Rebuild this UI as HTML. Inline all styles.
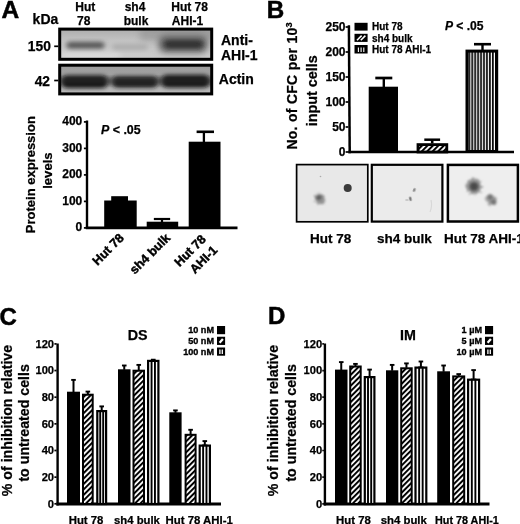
<!DOCTYPE html>
<html><head><meta charset="utf-8"><title>Figure</title>
<style>
html,body{margin:0;padding:0;background:#fff;}
svg{display:block;font-family:"Liberation Sans",Arial,Helvetica,sans-serif;}
</style></head><body>
<svg width="520" height="524" viewBox="0 0 520 524">
<defs>
<pattern id="hatch" width="3.85" height="3.85" patternUnits="userSpaceOnUse" patternTransform="rotate(-45)">
<rect width="3.85" height="3.85" fill="#fff"/><rect y="0" width="3.85" height="2.0" fill="#000"/>
</pattern>
<pattern id="vs" x="0" width="2.9" height="10" patternUnits="userSpaceOnUse">
<rect width="2.9" height="10" fill="#fff"/><rect x="0" width="1.5" height="10" fill="#000"/>
</pattern>
<pattern id="vsB" x="465.5" width="2.95" height="10" patternUnits="userSpaceOnUse">
<rect width="2.95" height="10" fill="#000"/><rect x="1.7" width="1.25" height="10" fill="#fff"/>
</pattern>
<filter id="b1" x="-20%" y="-50%" width="140%" height="200%"><feGaussianBlur stdDeviation="2.2 1.8"/></filter>
<filter id="b2" x="-20%" y="-50%" width="140%" height="200%"><feGaussianBlur stdDeviation="2.5 2.2"/></filter>
<filter id="b5" x="-30%" y="-60%" width="160%" height="220%"><feGaussianBlur stdDeviation="3"/></filter>
<filter id="rg" x="-60%" y="-60%" width="220%" height="220%"><feTurbulence type="fractalNoise" baseFrequency="0.35" numOctaves="2" seed="7" result="n"/><feDisplacementMap in="SourceGraphic" in2="n" scale="6" xChannelSelector="R" yChannelSelector="G"/><feGaussianBlur stdDeviation="0.9"/></filter>
<filter id="b3" x="-50%" y="-50%" width="200%" height="200%"><feGaussianBlur stdDeviation="1.6"/></filter>
<filter id="b4" x="-50%" y="-50%" width="200%" height="200%"><feGaussianBlur stdDeviation="0.6"/></filter>
<linearGradient id="g1" x1="0" y1="0" x2="0" y2="1"><stop offset="0" stop-color="#acacac"/><stop offset="0.4" stop-color="#c4c4c4"/><stop offset="1" stop-color="#cdcdcd"/></linearGradient>
<linearGradient id="g2" x1="0" y1="0" x2="0" y2="1"><stop offset="0" stop-color="#9a9a9a"/><stop offset="0.5" stop-color="#a8a8a8"/><stop offset="1" stop-color="#c0c0c0"/></linearGradient>
<clipPath id="c1"><rect x="59.5" y="28.5" width="152.5" height="31.5"/></clipPath>
<clipPath id="c2"><rect x="59.5" y="64.5" width="152.5" height="30.5"/></clipPath>
</defs>
<rect width="520" height="524" fill="#fff"/>

<text x="1.6" y="18.4" font-size="24.5" font-weight="bold" fill="#000" stroke="#000" stroke-width="0.5">A</text>
<text x="32.6" y="24.2" font-size="14" font-weight="bold" fill="#000" stroke="#000" stroke-width="0.25">kDa</text>
<text x="85.3" y="11.2" font-size="12" font-weight="bold" fill="#000" text-anchor="middle" stroke="#000" stroke-width="0.25">Hut</text>
<text x="83.8" y="25" font-size="12" font-weight="bold" fill="#000" text-anchor="middle" stroke="#000" stroke-width="0.25">78</text>
<text x="135" y="11.2" font-size="12" font-weight="bold" fill="#000" text-anchor="middle" stroke="#000" stroke-width="0.25">sh4</text>
<text x="136" y="25" font-size="12" font-weight="bold" fill="#000" text-anchor="middle" stroke="#000" stroke-width="0.25">bulk</text>
<text x="189.6" y="11.2" font-size="12" font-weight="bold" fill="#000" text-anchor="middle" stroke="#000" stroke-width="0.25">Hut 78</text>
<text x="187.5" y="25" font-size="12" font-weight="bold" fill="#000" text-anchor="middle" stroke="#000" stroke-width="0.25">AHI-1</text>
<text x="27.8" y="51.2" font-size="13.8" font-weight="bold" fill="#000" stroke="#000" stroke-width="0.25">150</text>
<text x="34.7" y="85.7" font-size="13.8" font-weight="bold" fill="#000" stroke="#000" stroke-width="0.25">42</text>
<line x1="54.2" y1="46.3" x2="58.3" y2="46.3" stroke="#000" stroke-width="1.7"/>
<line x1="54.2" y1="80.5" x2="58.3" y2="80.5" stroke="#000" stroke-width="1.7"/>
<text x="221" y="45" font-size="14" font-weight="bold" fill="#000" stroke="#000" stroke-width="0.25">Anti-</text>
<text x="221" y="60" font-size="14" font-weight="bold" fill="#000" stroke="#000" stroke-width="0.25">AHI-1</text>
<text x="218.8" y="84.2" font-size="14" font-weight="bold" fill="#000" stroke="#000" stroke-width="0.25">Actin</text>
<rect x="59.5" y="28.8" width="152.5" height="31.2" fill="url(#g1)" />
<g clip-path="url(#c1)">
<rect x="140" y="27" width="75" height="14" fill="#8c8c8c" opacity="0.55" filter="url(#b5)"/>
<rect x="60" y="52" width="60" height="8" fill="#e2e2e2" opacity="0.7" filter="url(#b5)"/>
<rect x="66.5" y="41.8" width="38" height="7" rx="3.5" fill="#585858" filter="url(#b2)"/>
<rect x="112" y="44" width="36" height="6" rx="3" fill="#adadad" filter="url(#b2)"/>
<rect x="158" y="35" width="50" height="18" rx="8" fill="#6c6c6c" filter="url(#b5)"/>
<rect x="164" y="40" width="39" height="8.5" rx="4.2" fill="#303030" filter="url(#b2)"/>
</g>
<rect x="59.7" y="29.1" width="152.0" height="30.2" fill="none" stroke="#000" stroke-width="3" />
<rect x="59.5" y="64.5" width="152.5" height="30.5" fill="url(#g2)" />
<g clip-path="url(#c2)">
<rect x="61" y="75.5" width="47" height="12.5" rx="5.7" fill="#101010" filter="url(#b2)"/>
<rect x="112" y="76.5" width="46" height="11" rx="5" fill="#141414" filter="url(#b2)"/>
<rect x="161" y="75" width="49" height="12.5" rx="5.7" fill="#101010" filter="url(#b2)"/>
<rect x="60" y="78" width="152" height="6" fill="#333" opacity="0.6" filter="url(#b2)"/>
</g>
<rect x="59.7" y="65.2" width="152.0" height="28.7" fill="none" stroke="#000" stroke-width="3" />
<line x1="87" y1="120.5" x2="87" y2="229" stroke="#000" stroke-width="2.4"/>
<line x1="85.8" y1="227.9" x2="237.5" y2="227.9" stroke="#000" stroke-width="2.6"/>
<line x1="83.9" y1="227.9" x2="86" y2="227.9" stroke="#000" stroke-width="1.7"/>
<text x="82.3" y="231.4" font-size="12" font-weight="bold" fill="#000" text-anchor="end" stroke="#000" stroke-width="0.25">0</text>
<line x1="83.9" y1="201.4" x2="86" y2="201.4" stroke="#000" stroke-width="1.7"/>
<text x="82.3" y="204.9" font-size="12" font-weight="bold" fill="#000" text-anchor="end" stroke="#000" stroke-width="0.25">100</text>
<line x1="83.9" y1="174.9" x2="86" y2="174.9" stroke="#000" stroke-width="1.7"/>
<text x="82.3" y="178.4" font-size="12" font-weight="bold" fill="#000" text-anchor="end" stroke="#000" stroke-width="0.25">200</text>
<line x1="83.9" y1="148.4" x2="86" y2="148.4" stroke="#000" stroke-width="1.7"/>
<text x="82.3" y="151.9" font-size="12" font-weight="bold" fill="#000" text-anchor="end" stroke="#000" stroke-width="0.25">300</text>
<line x1="83.9" y1="121.9" x2="86" y2="121.9" stroke="#000" stroke-width="1.7"/>
<text x="82.3" y="125.4" font-size="12" font-weight="bold" fill="#000" text-anchor="end" stroke="#000" stroke-width="0.25">400</text>
<text x="101" y="134" font-size="12.42" font-weight="bold" fill="#000" stroke="#000" stroke-width="0.25"><tspan font-style="italic">P</tspan> &lt; .05</text>
<text x="35.0" y="233.2" font-size="13.0" font-weight="bold" fill="#000" transform="rotate(-90 35.0 233.2)" stroke="#000" stroke-width="0.25">Protein expression</text>
<text x="52.2" y="188.8" font-size="13.1" font-weight="bold" fill="#000" transform="rotate(-90 52.2 188.8)" stroke="#000" stroke-width="0.25">levels</text>
<rect x="104.2" y="200.5" width="32.5" height="27.4" fill="#000" />
<rect x="111.2" y="196.2" width="16.8" height="4.8" fill="#000" />
<rect x="146.7" y="221.7" width="31.5" height="6.2" fill="#000" />
<line x1="162" y1="219" x2="162" y2="222" stroke="#000" stroke-width="2.2"/>
<line x1="153.85" y1="219" x2="170.15" y2="219" stroke="#000" stroke-width="2.2"/>
<rect x="188.7" y="141.7" width="31.8" height="86.2" fill="#000" />
<line x1="203.9" y1="131.8" x2="203.9" y2="142" stroke="#000" stroke-width="2.3"/>
<line x1="196.6" y1="131.8" x2="214" y2="131.8" stroke="#000" stroke-width="2.6"/>
<text x="124.7" y="238.7" font-size="12.6" font-weight="bold" fill="#000" text-anchor="end" transform="rotate(-45 124.7 238.7)" stroke="#000" stroke-width="0.45">Hut 78</text>
<text x="171" y="238.7" font-size="12.6" font-weight="bold" fill="#000" text-anchor="end" transform="rotate(-45 171 238.7)" stroke="#000" stroke-width="0.45">sh4 bulk</text>
<text x="206.7" y="240" font-size="12.6" font-weight="bold" fill="#000" text-anchor="end" transform="rotate(-45 206.7 240)" stroke="#000" stroke-width="0.45">Hut 78</text>
<text x="218.2" y="251" font-size="12.6" font-weight="bold" fill="#000" text-anchor="end" transform="rotate(-45 218.2 251)" stroke="#000" stroke-width="0.45">AHI-1</text>
<text x="266.8" y="17.7" font-size="24.2" font-weight="bold" fill="#000" stroke="#000" stroke-width="0.5">B</text>
<line x1="348.90000000000003" y1="25.3" x2="349.70000000000005" y2="153.3" stroke="#000" stroke-width="2.5"/>
<line x1="348.2" y1="152.0" x2="514" y2="152.0" stroke="#000" stroke-width="2.6"/>
<line x1="345.6" y1="152.0" x2="348.4" y2="152.0" stroke="#000" stroke-width="1.7"/>
<text x="345.5" y="155.6" font-size="12" font-weight="bold" fill="#000" text-anchor="end" stroke="#000" stroke-width="0.25">0</text>
<line x1="345.6" y1="127.0" x2="348.4" y2="127.0" stroke="#000" stroke-width="1.7"/>
<text x="345.5" y="130.6" font-size="12" font-weight="bold" fill="#000" text-anchor="end" stroke="#000" stroke-width="0.25">50</text>
<line x1="345.6" y1="102.0" x2="348.4" y2="102.0" stroke="#000" stroke-width="1.7"/>
<text x="345.5" y="105.6" font-size="12" font-weight="bold" fill="#000" text-anchor="end" stroke="#000" stroke-width="0.25">100</text>
<line x1="345.6" y1="77.0" x2="348.4" y2="77.0" stroke="#000" stroke-width="1.7"/>
<text x="345.5" y="80.6" font-size="12" font-weight="bold" fill="#000" text-anchor="end" stroke="#000" stroke-width="0.25">150</text>
<line x1="345.6" y1="52.0" x2="348.4" y2="52.0" stroke="#000" stroke-width="1.7"/>
<text x="345.5" y="55.6" font-size="12" font-weight="bold" fill="#000" text-anchor="end" stroke="#000" stroke-width="0.25">200</text>
<line x1="345.6" y1="27.0" x2="348.4" y2="27.0" stroke="#000" stroke-width="1.7"/>
<text x="345.5" y="30.6" font-size="12" font-weight="bold" fill="#000" text-anchor="end" stroke="#000" stroke-width="0.25">250</text>
<text x="297.4" y="149.6" font-size="14.0" font-weight="bold" fill="#000" transform="rotate(-90 297.4 149.6)" stroke="#000" stroke-width="0.25"><tspan letter-spacing="0.28">No. of CFC per 10</tspan><tspan dy="-5" font-size="9.3">3</tspan></text>
<text x="317.2" y="126.3" font-size="14.4" font-weight="bold" fill="#000" transform="rotate(-90 317.2 126.3)" stroke="#000" stroke-width="0.25">input cells</text>
<rect x="354.5" y="22.8" width="13.1" height="7.8" fill="#000" />
<rect x="354.5" y="33.8" width="13.1" height="8.1" fill="#000" />
<g stroke="#fff" stroke-width="1.5"><line x1="357" y1="40.2" x2="361.6" y2="35.6"/><line x1="360.8" y1="40.2" x2="365.4" y2="35.6"/></g>
<rect x="354.5" y="45" width="13.1" height="8.5" fill="#000" />
<g stroke="#fff" stroke-width="1.1"><line x1="358.4" y1="47.5" x2="358.4" y2="52"/><line x1="361.1" y1="47.5" x2="361.1" y2="52"/><line x1="363.8" y1="47.5" x2="363.8" y2="52"/></g>
<text x="372" y="29.9" font-size="10" font-weight="bold" fill="#000" stroke="#000" stroke-width="0.25">Hut 78</text>
<text x="372" y="41.8" font-size="10" font-weight="bold" fill="#000" stroke="#000" stroke-width="0.25">sh4 bulk</text>
<text x="372" y="52.8" font-size="10" font-weight="bold" fill="#000" stroke="#000" stroke-width="0.25">Hut 78 AHI-1</text>
<text x="444.9" y="29.8" font-size="12.1" font-weight="bold" fill="#000" stroke="#000" stroke-width="0.25"><tspan font-style="italic">P</tspan> &lt; .05</text>
<rect x="368.7" y="86.7" width="29.3" height="64.8" fill="#000" />
<line x1="383.8" y1="78" x2="383.8" y2="87" stroke="#000" stroke-width="2.4"/>
<line x1="375.3" y1="78" x2="392.3" y2="78" stroke="#000" stroke-width="2.7"/>
<rect x="418.0" y="144.6" width="28.8" height="7.4" fill="url(#hatch)" stroke="#000" stroke-width="2.8" />
<line x1="432.2" y1="139.7" x2="432.2" y2="143.4" stroke="#000" stroke-width="2.6"/>
<line x1="424.3" y1="139.7" x2="440.09999999999997" y2="139.7" stroke="#000" stroke-width="2.5"/>
<rect x="467.0" y="51.1" width="29.7" height="100.4" fill="url(#vsB)" stroke="#000" stroke-width="3" />
<line x1="482.5" y1="44.2" x2="482.5" y2="50" stroke="#000" stroke-width="2.4"/>
<line x1="474.0" y1="44.2" x2="491.0" y2="44.2" stroke="#000" stroke-width="2.6"/>
<rect x="296.6" y="164.6" width="71.2" height="57.2" fill="#e8e8e8" stroke="#000" stroke-width="1.7" />
<circle cx="347.7" cy="188" r="4" fill="#3a3a3a" filter="url(#b4)"/>
<circle cx="319.6" cy="198.6" r="5.2" fill="#9a9a9a" filter="url(#rg)"/>
<circle cx="319" cy="197.5" r="2.6" fill="#555" filter="url(#b3)"/>
<ellipse cx="322" cy="202" rx="2.5" ry="2" fill="#888" filter="url(#b3)"/>
<circle cx="320.5" cy="176.5" r="0.8" fill="#aaa" filter="url(#b4)"/>
<rect x="371.8" y="164.8" width="70.6" height="56.8" fill="#ebebeb" stroke="#000" stroke-width="2.2" />
<ellipse cx="414.3" cy="190" rx="1.3" ry="2" fill="#8a8a8a" filter="url(#b4)" transform="rotate(25 414.3 190)"/>
<ellipse cx="410.4" cy="198.8" rx="1.2" ry="2.4" fill="#777" filter="url(#b4)" transform="rotate(-15 410.4 198.8)"/>
<ellipse cx="407" cy="200" rx="2" ry="0.7" fill="#bbb" filter="url(#b4)"/>
<path d="M431 200 q1.5 6 -1 12" stroke="#d8d8d8" stroke-width="1.2" fill="none" filter="url(#b4)"/>
<rect x="447.9" y="164.9" width="70.0" height="56.6" fill="#eeeeee" stroke="#000" stroke-width="2.5" />
<circle cx="474" cy="186.5" r="8.2" fill="#9c9c9c" filter="url(#rg)"/>
<circle cx="474" cy="186.5" r="4.6" fill="#4a4a4a" filter="url(#b3)"/>
<ellipse cx="491.5" cy="199.8" rx="5" ry="5.8" fill="#a0a0a0" filter="url(#rg)" transform="rotate(-35 491.5 199.8)"/>
<ellipse cx="490" cy="197.3" rx="2.4" ry="2.2" fill="#666" filter="url(#b3)"/>
<ellipse cx="493.5" cy="202" rx="2.6" ry="2.4" fill="#6c6c6c" filter="url(#b3)"/>
<text x="310.1" y="243.4" font-size="13.5" font-weight="bold" fill="#000" stroke="#000" stroke-width="0.25">Hut 78</text>
<text x="377.0" y="243.4" font-size="13.5" font-weight="bold" fill="#000" stroke="#000" stroke-width="0.25">sh4 bulk</text>
<text x="444.0" y="243.4" font-size="13.5" font-weight="bold" fill="#000" stroke="#000" stroke-width="0.25">Hut 78 AHI-1</text>
<line x1="57.6" y1="343.5" x2="57.6" y2="505.5" stroke="#000" stroke-width="2.4"/>
<line x1="56.4" y1="504" x2="221" y2="504" stroke="#000" stroke-width="2.8"/>
<line x1="54.4" y1="503.8" x2="56.6" y2="503.8" stroke="#000" stroke-width="1.7"/>
<text x="54.1" y="507.6" font-size="11.2" font-weight="bold" fill="#000" text-anchor="end" stroke="#000" stroke-width="0.25">0</text>
<line x1="54.4" y1="477.15000000000003" x2="56.6" y2="477.15000000000003" stroke="#000" stroke-width="1.7"/>
<text x="54.1" y="480.95000000000005" font-size="11.2" font-weight="bold" fill="#000" text-anchor="end" stroke="#000" stroke-width="0.25">20</text>
<line x1="54.4" y1="450.5" x2="56.6" y2="450.5" stroke="#000" stroke-width="1.7"/>
<text x="54.1" y="454.3" font-size="11.2" font-weight="bold" fill="#000" text-anchor="end" stroke="#000" stroke-width="0.25">40</text>
<line x1="54.4" y1="423.85" x2="56.6" y2="423.85" stroke="#000" stroke-width="1.7"/>
<text x="54.1" y="427.65000000000003" font-size="11.2" font-weight="bold" fill="#000" text-anchor="end" stroke="#000" stroke-width="0.25">60</text>
<line x1="54.4" y1="397.2" x2="56.6" y2="397.2" stroke="#000" stroke-width="1.7"/>
<text x="54.1" y="401.0" font-size="11.2" font-weight="bold" fill="#000" text-anchor="end" stroke="#000" stroke-width="0.25">80</text>
<line x1="54.4" y1="370.55" x2="56.6" y2="370.55" stroke="#000" stroke-width="1.7"/>
<text x="54.1" y="374.35" font-size="11.2" font-weight="bold" fill="#000" text-anchor="end" stroke="#000" stroke-width="0.25">100</text>
<line x1="54.4" y1="343.90000000000003" x2="56.6" y2="343.90000000000003" stroke="#000" stroke-width="1.7"/>
<text x="54.1" y="347.70000000000005" font-size="11.2" font-weight="bold" fill="#000" text-anchor="end" stroke="#000" stroke-width="0.25">120</text>
<text x="-0.5" y="324.9" font-size="24" font-weight="bold" fill="#000" stroke="#000" stroke-width="0.5">C</text>
<text x="127.7" y="340.4" font-size="14.3" font-weight="bold" fill="#000" stroke="#000" stroke-width="0.25">DS</text>
<text x="11.7" y="496.2" font-size="14.2" font-weight="bold" fill="#000" transform="rotate(-90 11.7 496.2)" stroke="#000" stroke-width="0.25">% of inhibition relative</text>
<text x="28.9" y="481.6" font-size="14.2" font-weight="bold" fill="#000" transform="rotate(-90 28.9 481.6)" stroke="#000" stroke-width="0.25">to untreated cells</text>
<rect x="217" y="326.0" width="8.1" height="8.2" fill="#000" />
<text x="214.0" y="333.4" font-size="9.1" font-weight="bold" fill="#000" text-anchor="end" stroke="#000" stroke-width="0.35">10 nM</text>
<rect x="217" y="336.75" width="8.1" height="8.2" fill="#000" />
<line x1="219.6" y1="342.75" x2="222.9" y2="339.05" stroke="#fff" stroke-width="2.3"/>
<text x="214.0" y="344.15" font-size="9.1" font-weight="bold" fill="#000" text-anchor="end" stroke="#000" stroke-width="0.35">50 nM</text>
<rect x="217" y="347.5" width="8.1" height="8.2" fill="#000" />
<line x1="219.9" y1="349.5" x2="219.9" y2="353.9" stroke="#fff" stroke-width="1.3"/>
<line x1="222.3" y1="349.5" x2="222.3" y2="353.9" stroke="#fff" stroke-width="1.3"/>
<text x="214.0" y="354.9" font-size="9.1" font-weight="bold" fill="#000" text-anchor="end" stroke="#000" stroke-width="0.35">100 nM</text>
<rect x="67" y="391.7" width="13" height="112.3" fill="#000" />
<line x1="73.5" y1="379.9" x2="73.5" y2="392.2" stroke="#000" stroke-width="2.0"/>
<line x1="71.2" y1="379.9" x2="75.8" y2="379.9" stroke="#000" stroke-width="1.9"/>
<rect x="83.0" y="394.7" width="9.7" height="109.3" fill="url(#hatch)" stroke="#000" stroke-width="2" />
<line x1="87.85" y1="391.59999999999997" x2="87.85" y2="394.2" stroke="#000" stroke-width="2.0"/>
<line x1="85.55" y1="391.59999999999997" x2="90.14999999999999" y2="391.59999999999997" stroke="#000" stroke-width="1.9"/>
<rect x="97.3" y="411.1" width="8.8" height="92.9" fill="#fff" stroke="#000" stroke-width="2.2" />
<line x1="100.215" y1="410" x2="100.215" y2="504" stroke="#000" stroke-width="1.9"/>
<line x1="103.185" y1="410" x2="103.185" y2="504" stroke="#000" stroke-width="1.9"/>
<line x1="101.7" y1="406.4" x2="101.7" y2="410.5" stroke="#000" stroke-width="2.0"/>
<line x1="99.4" y1="406.4" x2="104.0" y2="406.4" stroke="#000" stroke-width="1.9"/>
<rect x="118" y="369.3" width="12.5" height="134.7" fill="#000" />
<line x1="124.25" y1="365.5" x2="124.25" y2="369.8" stroke="#000" stroke-width="2.0"/>
<line x1="121.95" y1="365.5" x2="126.55" y2="365.5" stroke="#000" stroke-width="1.9"/>
<rect x="133.5" y="370.7" width="10.5" height="133.3" fill="url(#hatch)" stroke="#000" stroke-width="2" />
<line x1="138.75" y1="364.9" x2="138.75" y2="370.2" stroke="#000" stroke-width="2.0"/>
<line x1="136.45" y1="364.9" x2="141.05" y2="364.9" stroke="#000" stroke-width="1.9"/>
<rect x="148.1" y="360.90000000000003" width="10.3" height="143.1" fill="#fff" stroke="#000" stroke-width="2.2" />
<line x1="151.5625" y1="359.8" x2="151.5625" y2="504" stroke="#000" stroke-width="1.9"/>
<line x1="154.9375" y1="359.8" x2="154.9375" y2="504" stroke="#000" stroke-width="1.9"/>
<line x1="153.25" y1="359.7" x2="153.25" y2="360.3" stroke="#000" stroke-width="2.0"/>
<line x1="150.95" y1="359.7" x2="155.55" y2="359.7" stroke="#000" stroke-width="1.9"/>
<rect x="169.3" y="412.3" width="12.3" height="91.7" fill="#000" />
<line x1="175.45" y1="410.4" x2="175.45" y2="412.8" stroke="#000" stroke-width="2.0"/>
<line x1="173.14999999999998" y1="410.4" x2="177.75" y2="410.4" stroke="#000" stroke-width="1.9"/>
<rect x="185.6" y="434.8" width="10.0" height="69.2" fill="url(#hatch)" stroke="#000" stroke-width="2" />
<line x1="190.6" y1="429.79999999999995" x2="190.6" y2="434.3" stroke="#000" stroke-width="2.0"/>
<line x1="188.29999999999998" y1="429.79999999999995" x2="192.9" y2="429.79999999999995" stroke="#000" stroke-width="1.9"/>
<rect x="199.7" y="445.6" width="10.2" height="58.4" fill="#fff" stroke="#000" stroke-width="2.2" />
<line x1="203.126" y1="444.5" x2="203.126" y2="504" stroke="#000" stroke-width="1.9"/>
<line x1="206.474" y1="444.5" x2="206.474" y2="504" stroke="#000" stroke-width="1.9"/>
<line x1="204.8" y1="441.09999999999997" x2="204.8" y2="445.0" stroke="#000" stroke-width="2.0"/>
<line x1="202.5" y1="441.09999999999997" x2="207.10000000000002" y2="441.09999999999997" stroke="#000" stroke-width="1.9"/>
<text x="68.7" y="524.3" font-size="11.36" font-weight="bold" fill="#000" stroke="#000" stroke-width="0.25">Hut 78</text>
<text x="114" y="524.3" font-size="11.32" font-weight="bold" fill="#000" stroke="#000" stroke-width="0.25">sh4 bulk</text>
<text x="165.5" y="524.3" font-size="11.41" font-weight="bold" fill="#000" stroke="#000" stroke-width="0.25">Hut 78 AHI-1</text>
<line x1="324.90000000000003" y1="343.5" x2="324.90000000000003" y2="505.5" stroke="#000" stroke-width="2.4"/>
<line x1="323.70000000000005" y1="504" x2="489.5" y2="504" stroke="#000" stroke-width="2.8"/>
<line x1="322.3" y1="503.8" x2="323.90000000000003" y2="503.8" stroke="#000" stroke-width="1.7"/>
<text x="322.20000000000005" y="507.6" font-size="11.2" font-weight="bold" fill="#000" text-anchor="end" stroke="#000" stroke-width="0.25">0</text>
<line x1="322.3" y1="477.15000000000003" x2="323.90000000000003" y2="477.15000000000003" stroke="#000" stroke-width="1.7"/>
<text x="322.20000000000005" y="480.95000000000005" font-size="11.2" font-weight="bold" fill="#000" text-anchor="end" stroke="#000" stroke-width="0.25">20</text>
<line x1="322.3" y1="450.5" x2="323.90000000000003" y2="450.5" stroke="#000" stroke-width="1.7"/>
<text x="322.20000000000005" y="454.3" font-size="11.2" font-weight="bold" fill="#000" text-anchor="end" stroke="#000" stroke-width="0.25">40</text>
<line x1="322.3" y1="423.85" x2="323.90000000000003" y2="423.85" stroke="#000" stroke-width="1.7"/>
<text x="322.20000000000005" y="427.65000000000003" font-size="11.2" font-weight="bold" fill="#000" text-anchor="end" stroke="#000" stroke-width="0.25">60</text>
<line x1="322.3" y1="397.2" x2="323.90000000000003" y2="397.2" stroke="#000" stroke-width="1.7"/>
<text x="322.20000000000005" y="401.0" font-size="11.2" font-weight="bold" fill="#000" text-anchor="end" stroke="#000" stroke-width="0.25">80</text>
<line x1="322.3" y1="370.55" x2="323.90000000000003" y2="370.55" stroke="#000" stroke-width="1.7"/>
<text x="322.20000000000005" y="374.35" font-size="11.2" font-weight="bold" fill="#000" text-anchor="end" stroke="#000" stroke-width="0.25">100</text>
<line x1="322.3" y1="343.90000000000003" x2="323.90000000000003" y2="343.90000000000003" stroke="#000" stroke-width="1.7"/>
<text x="322.20000000000005" y="347.70000000000005" font-size="11.2" font-weight="bold" fill="#000" text-anchor="end" stroke="#000" stroke-width="0.25">120</text>
<text x="268.1" y="324.3" font-size="24" font-weight="bold" fill="#000" stroke="#000" stroke-width="0.5">D</text>
<text x="400" y="339.9" font-size="14.3" font-weight="bold" fill="#000" stroke="#000" stroke-width="0.25">IM</text>
<text x="278.5" y="496.2" font-size="14.2" font-weight="bold" fill="#000" transform="rotate(-90 278.5 496.2)" stroke="#000" stroke-width="0.25">% of inhibition relative</text>
<text x="296.2" y="481.6" font-size="14.2" font-weight="bold" fill="#000" transform="rotate(-90 296.2 481.6)" stroke="#000" stroke-width="0.25">to untreated cells</text>
<rect x="485" y="326.0" width="8.1" height="8.2" fill="#000" />
<text x="482.0" y="333.4" font-size="9.1" font-weight="bold" fill="#000" text-anchor="end" stroke="#000" stroke-width="0.35">1 µM</text>
<rect x="485" y="336.75" width="8.1" height="8.2" fill="#000" />
<line x1="487.6" y1="342.75" x2="490.90000000000003" y2="339.05" stroke="#fff" stroke-width="2.3"/>
<text x="482.0" y="344.15" font-size="9.1" font-weight="bold" fill="#000" text-anchor="end" stroke="#000" stroke-width="0.35">5 µM</text>
<rect x="485" y="347.5" width="8.1" height="8.2" fill="#000" />
<line x1="487.9" y1="349.5" x2="487.9" y2="353.9" stroke="#fff" stroke-width="1.3"/>
<line x1="490.3" y1="349.5" x2="490.3" y2="353.9" stroke="#fff" stroke-width="1.3"/>
<text x="482.0" y="354.9" font-size="9.1" font-weight="bold" fill="#000" text-anchor="end" stroke="#000" stroke-width="0.35">10 µM</text>
<rect x="335" y="369.6" width="12.5" height="134.4" fill="#000" />
<line x1="341.25" y1="362.09999999999997" x2="341.25" y2="370.1" stroke="#000" stroke-width="2.0"/>
<line x1="338.95" y1="362.09999999999997" x2="343.55" y2="362.09999999999997" stroke="#000" stroke-width="1.9"/>
<rect x="350.2" y="366.5" width="10.5" height="137.5" fill="url(#hatch)" stroke="#000" stroke-width="2" />
<line x1="355.45" y1="363.9" x2="355.45" y2="366.0" stroke="#000" stroke-width="2.0"/>
<line x1="353.15" y1="363.9" x2="357.75" y2="363.9" stroke="#000" stroke-width="1.9"/>
<rect x="364.8" y="377.1" width="9.6" height="126.9" fill="#fff" stroke="#000" stroke-width="2.2" />
<line x1="368.007" y1="376" x2="368.007" y2="504" stroke="#000" stroke-width="1.9"/>
<line x1="371.193" y1="376" x2="371.193" y2="504" stroke="#000" stroke-width="1.9"/>
<line x1="369.6" y1="369.59999999999997" x2="369.6" y2="376.5" stroke="#000" stroke-width="2.0"/>
<line x1="367.3" y1="369.59999999999997" x2="371.90000000000003" y2="369.59999999999997" stroke="#000" stroke-width="1.9"/>
<rect x="386" y="370.3" width="12.3" height="133.7" fill="#000" />
<line x1="392.15" y1="364.9" x2="392.15" y2="370.8" stroke="#000" stroke-width="2.0"/>
<line x1="389.84999999999997" y1="364.9" x2="394.45" y2="364.9" stroke="#000" stroke-width="1.9"/>
<rect x="401.2" y="368.3" width="10.5" height="135.7" fill="url(#hatch)" stroke="#000" stroke-width="2" />
<line x1="406.45" y1="363.4" x2="406.45" y2="367.8" stroke="#000" stroke-width="2.0"/>
<line x1="404.15" y1="363.4" x2="408.75" y2="363.4" stroke="#000" stroke-width="1.9"/>
<rect x="415.5" y="367.6" width="10.8" height="136.4" fill="#fff" stroke="#000" stroke-width="2.2" />
<line x1="419.145" y1="366.5" x2="419.145" y2="504" stroke="#000" stroke-width="1.9"/>
<line x1="422.655" y1="366.5" x2="422.655" y2="504" stroke="#000" stroke-width="1.9"/>
<line x1="420.9" y1="361.5" x2="420.9" y2="367.0" stroke="#000" stroke-width="2.0"/>
<line x1="418.59999999999997" y1="361.5" x2="423.2" y2="361.5" stroke="#000" stroke-width="1.9"/>
<rect x="437.2" y="371.3" width="12.8" height="132.7" fill="#000" />
<line x1="443.6" y1="365.5" x2="443.6" y2="371.8" stroke="#000" stroke-width="2.0"/>
<line x1="441.3" y1="365.5" x2="445.90000000000003" y2="365.5" stroke="#000" stroke-width="1.9"/>
<rect x="453.2" y="376.4" width="11.0" height="127.6" fill="url(#hatch)" stroke="#000" stroke-width="2" />
<line x1="458.7" y1="374.09999999999997" x2="458.7" y2="375.9" stroke="#000" stroke-width="2.0"/>
<line x1="456.4" y1="374.09999999999997" x2="461.0" y2="374.09999999999997" stroke="#000" stroke-width="1.9"/>
<rect x="468.1" y="379.70000000000005" width="11.0" height="124.3" fill="#fff" stroke="#000" stroke-width="2.2" />
<line x1="471.818" y1="378.6" x2="471.818" y2="504" stroke="#000" stroke-width="1.9"/>
<line x1="475.382" y1="378.6" x2="475.382" y2="504" stroke="#000" stroke-width="1.9"/>
<line x1="473.6" y1="370.09999999999997" x2="473.6" y2="379.1" stroke="#000" stroke-width="2.0"/>
<line x1="471.3" y1="370.09999999999997" x2="475.90000000000003" y2="370.09999999999997" stroke="#000" stroke-width="1.9"/>
<text x="336" y="524.3" font-size="11.42" font-weight="bold" fill="#000" stroke="#000" stroke-width="0.25">Hut 78</text>
<text x="380.7" y="524.3" font-size="11.39" font-weight="bold" fill="#000" stroke="#000" stroke-width="0.25">sh4 bulk</text>
<text x="435" y="524.3" font-size="10.81" font-weight="bold" fill="#000" stroke="#000" stroke-width="0.25">Hut 78 AHI-1</text>
</svg></body></html>
